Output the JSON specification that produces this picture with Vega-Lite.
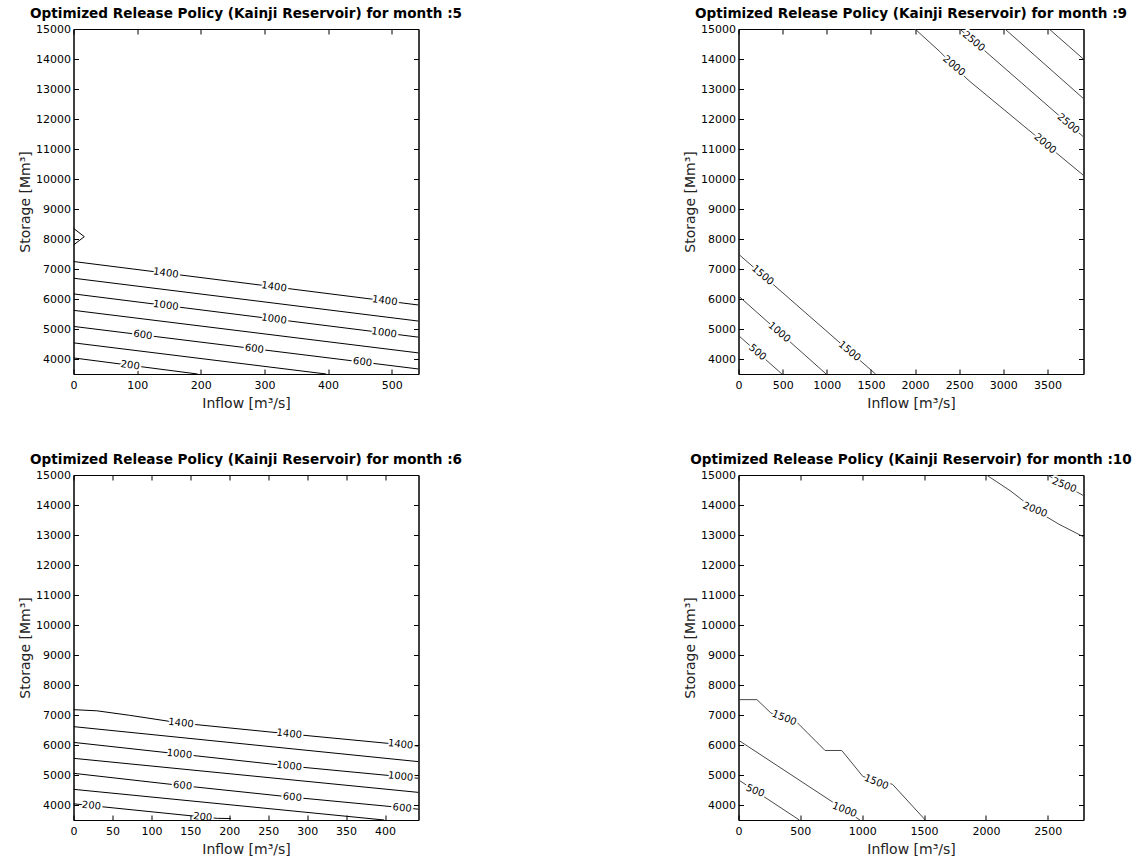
{
  "$schema": "https://vega.github.io/schema/vega-lite/v6.json",
  "padding": {"left": 17.5, "top": 6, "right": 5, "bottom": 5},
  "background": "white",
  "config": {
    "font": "DejaVu Sans",
    "view": {"stroke": "black", "strokeWidth": 1},
    "axis": {
      "grid": false, "domainColor": "black", "domainWidth": 1, "tickColor": "black", "tickSize": -5,
      "labelColor": "black", "labelFont": "DejaVu Sans", "labelFontSize": 11, "format": "d",
      "titleFont": "DejaVu Sans", "titleFontSize": 14, "titleFontWeight": "normal", "titleColor": "#222",
      "labelFlush": false, "labelOverlap": false
    },
    "axisBottom": {"labelPadding": 10, "titlePadding": 6},
    "axisLeft": {"labelPadding": 8, "titlePadding": 3},
    "title": {"font": "DejaVu Sans", "fontSize": 13.6, "fontWeight": "bold", "color": "black", "offset": 2, "frame": "group", "anchor": "middle"}
  },
  "datasets": {
    "lines5": [
      {"s": "1400", "i": 0, "x": 0, "y": 7250}, {"s": "1400", "i": 1, "x": 542, "y": 5800},
      {"s": "1200", "i": 0, "x": 0, "y": 6693}, {"s": "1200", "i": 1, "x": 542, "y": 5264},
      {"s": "1000", "i": 0, "x": 0, "y": 6170}, {"s": "1000", "i": 1, "x": 542, "y": 4728},
      {"s": "800", "i": 0, "x": 0, "y": 5622}, {"s": "800", "i": 1, "x": 542, "y": 4203},
      {"s": "600", "i": 0, "x": 0, "y": 5086}, {"s": "600", "i": 1, "x": 542, "y": 3667},
      {"s": "400", "i": 0, "x": 0, "y": 4539}, {"s": "400", "i": 1, "x": 397, "y": 3500},
      {"s": "200", "i": 0, "x": 0, "y": 4036}, {"s": "200", "i": 1, "x": 195, "y": 3500},
      {"s": "1600", "i": 0, "x": 0, "y": 8357}, {"s": "1600", "i": 1, "x": 17, "y": 8078}, {"s": "1600", "i": 2, "x": 0, "y": 7799}
    ],
    "labels5": [
      {"label": "1400", "x": 145, "y": 6862}, {"label": "1400", "x": 315, "y": 6407}, {"label": "1400", "x": 489, "y": 5942},
      {"label": "1000", "x": 145, "y": 5784}, {"label": "1000", "x": 315, "y": 5332}, {"label": "1000", "x": 488, "y": 4872},
      {"label": "600", "x": 109, "y": 4801}, {"label": "600", "x": 284, "y": 4342}, {"label": "600", "x": 454, "y": 3897},
      {"label": "200", "x": 89, "y": 3791}
    ],
    "lines6": [
      {"s": "1400", "i": 0, "x": 0, "y": 7178}, {"s": "1400", "i": 1, "x": 30, "y": 7140}, {"s": "1400", "i": 2, "x": 72, "y": 6990},
      {"s": "1400", "i": 3, "x": 138, "y": 6730}, {"s": "1400", "i": 4, "x": 277, "y": 6370}, {"s": "1400", "i": 5, "x": 420, "y": 6015}, {"s": "1400", "i": 6, "x": 443, "y": 5965},
      {"s": "1200", "i": 0, "x": 0, "y": 6612}, {"s": "1200", "i": 1, "x": 443, "y": 5445},
      {"s": "1000", "i": 0, "x": 0, "y": 6087}, {"s": "1000", "i": 1, "x": 136, "y": 5700}, {"s": "1000", "i": 2, "x": 277, "y": 5300}, {"s": "1000", "i": 3, "x": 443, "y": 4890},
      {"s": "800", "i": 0, "x": 0, "y": 5556}, {"s": "800", "i": 1, "x": 443, "y": 4420},
      {"s": "600", "i": 0, "x": 0, "y": 5056}, {"s": "600", "i": 1, "x": 140, "y": 4645}, {"s": "600", "i": 2, "x": 281, "y": 4260}, {"s": "600", "i": 3, "x": 443, "y": 3860},
      {"s": "400", "i": 0, "x": 0, "y": 4522}, {"s": "400", "i": 1, "x": 399, "y": 3500},
      {"s": "200", "i": 0, "x": 0, "y": 4040}, {"s": "200", "i": 1, "x": 23, "y": 3978}, {"s": "200", "i": 2, "x": 166, "y": 3600}, {"s": "200", "i": 3, "x": 185, "y": 3555}, {"s": "200", "i": 4, "x": 202, "y": 3550}
    ],
    "labels6": [
      {"label": "1400", "x": 138, "y": 6730}, {"label": "1400", "x": 277, "y": 6370}, {"label": "1400", "x": 420, "y": 6020},
      {"label": "1000", "x": 136, "y": 5700}, {"label": "1000", "x": 277, "y": 5300}, {"label": "1000", "x": 420, "y": 4950},
      {"label": "600", "x": 140, "y": 4645}, {"label": "600", "x": 281, "y": 4260}, {"label": "600", "x": 422, "y": 3900},
      {"label": "200", "x": 23, "y": 3978}, {"label": "200", "x": 166, "y": 3600}
    ],
    "lines9": [
      {"s": "500", "i": 0, "x": 0, "y": 4784}, {"s": "500", "i": 1, "x": 492, "y": 3500},
      {"s": "1000", "i": 0, "x": 0, "y": 6102}, {"s": "1000", "i": 1, "x": 993, "y": 3500},
      {"s": "1500", "i": 0, "x": 0, "y": 7497}, {"s": "1500", "i": 1, "x": 1553, "y": 3500},
      {"s": "2000", "i": 0, "x": 2000, "y": 15000}, {"s": "2000", "i": 1, "x": 2280, "y": 14250}, {"s": "2000", "i": 2, "x": 2602, "y": 13300}, {"s": "2000", "i": 3, "x": 3909, "y": 10121},
      {"s": "2500", "i": 0, "x": 2507, "y": 15000}, {"s": "2500", "i": 1, "x": 3909, "y": 11404},
      {"s": "3000", "i": 0, "x": 3019, "y": 15000}, {"s": "3000", "i": 1, "x": 3909, "y": 12680},
      {"s": "3500", "i": 0, "x": 3520, "y": 15000}, {"s": "3500", "i": 1, "x": 3909, "y": 13995}
    ],
    "labels9": [
      {"label": "500", "x": 216, "y": 4220},
      {"label": "1000", "x": 462, "y": 4892},
      {"label": "1500", "x": 273, "y": 6794}, {"label": "1500", "x": 1258, "y": 4259},
      {"label": "2000", "x": 2441, "y": 13775}, {"label": "2000", "x": 3474, "y": 11179},
      {"label": "2500", "x": 2666, "y": 14590}, {"label": "2500", "x": 3738, "y": 11843}
    ],
    "lines10": [
      {"s": "500", "i": 0, "x": 0, "y": 4837}, {"s": "500", "i": 1, "x": 492, "y": 3500},
      {"s": "1000", "i": 0, "x": 0, "y": 6160}, {"s": "1000", "i": 1, "x": 982, "y": 3500},
      {"s": "1500", "i": 0, "x": 0, "y": 7512}, {"s": "1500", "i": 1, "x": 149, "y": 7512}, {"s": "1500", "i": 2, "x": 262, "y": 7066},
      {"s": "1500", "i": 3, "x": 478, "y": 6732}, {"s": "1500", "i": 4, "x": 700, "y": 5817}, {"s": "1500", "i": 5, "x": 835, "y": 5817},
      {"s": "1500", "i": 6, "x": 1006, "y": 4949}, {"s": "1500", "i": 7, "x": 1245, "y": 4690}, {"s": "1500", "i": 8, "x": 1510, "y": 3500},
      {"s": "2000", "i": 0, "x": 2005, "y": 15000}, {"s": "2000", "i": 1, "x": 2195, "y": 14480}, {"s": "2000", "i": 2, "x": 2397, "y": 13840},
      {"s": "2000", "i": 3, "x": 2590, "y": 13360}, {"s": "2000", "i": 4, "x": 2789, "y": 12940},
      {"s": "2500", "i": 0, "x": 2498, "y": 15000}, {"s": "2500", "i": 1, "x": 2789, "y": 14310}
    ],
    "labels10": [
      {"label": "500", "x": 135, "y": 4470},
      {"label": "1000", "x": 857, "y": 3838},
      {"label": "1500", "x": 370, "y": 6900}, {"label": "1500", "x": 1114, "y": 4760},
      {"label": "2000", "x": 2397, "y": 13840},
      {"label": "2500", "x": 2633, "y": 14660}
    ]
  },
  "columns": 2,
  "spacing": {"row": 101, "column": 320},
  "bounds": "flush",
  "concat": [
    {
      "width": 345, "height": 345,
      "title": "Optimized Release Policy (Kainji Reservoir) for month :5",
      "resolve": {"axis": {"x": "independent", "y": "independent"}},
      "layer": [
        {
          "data": {"name": "lines5"},
          "mark": {"type": "line", "color": "black", "strokeWidth": 1, "clip": true},
          "encoding": {
            "x": {"field": "x", "type": "quantitative", "scale": {"domain": [0, 542], "nice": false, "zero": false},
                  "axis": {"orient": "bottom", "values": [0, 100, 200, 300, 400, 500], "title": "Inflow [m³/s]"}},
            "y": {"field": "y", "type": "quantitative", "scale": {"domain": [3500, 15000], "nice": false, "zero": false},
                  "axis": {"orient": "left", "values": [4000, 5000, 6000, 7000, 8000, 9000, 10000, 11000, 12000, 13000, 14000, 15000], "title": "Storage [Mm³]"}},
            "detail": {"field": "s"},
            "order": {"field": "i", "type": "quantitative"}
          }
        },
        {
          "data": {"name": "labels5"},
          "mark": {"type": "text", "angle": 8, "fontSize": 10, "fill": "white", "stroke": "white", "strokeWidth": 4, "strokeJoin": "round", "baseline": "middle", "clip": true},
          "encoding": {
            "x": {"field": "x", "type": "quantitative", "scale": {"domain": [0, 542], "nice": false, "zero": false},
                  "axis": {"orient": "top", "values": [0, 100, 200, 300, 400, 500], "labels": false, "title": null}},
            "y": {"field": "y", "type": "quantitative", "scale": {"domain": [3500, 15000], "nice": false, "zero": false},
                  "axis": {"orient": "right", "values": [4000, 5000, 6000, 7000, 8000, 9000, 10000, 11000, 12000, 13000, 14000, 15000], "labels": false, "title": null}},
            "text": {"field": "label"}
          }
        },
        {
          "data": {"name": "labels5"},
          "mark": {"type": "text", "angle": 8, "fontSize": 10, "color": "black", "baseline": "middle", "clip": true},
          "encoding": {
            "x": {"field": "x", "type": "quantitative", "scale": {"domain": [0, 542], "nice": false, "zero": false}, "axis": null},
            "y": {"field": "y", "type": "quantitative", "scale": {"domain": [3500, 15000], "nice": false, "zero": false}, "axis": null},
            "text": {"field": "label"}
          }
        }
      ]
    },
    {
      "width": 345, "height": 345,
      "title": "Optimized Release Policy (Kainji Reservoir) for month :9",
      "resolve": {"axis": {"x": "independent", "y": "independent"}},
      "layer": [
        {
          "data": {"name": "lines9"},
          "mark": {"type": "line", "color": "#333", "strokeWidth": 0.9, "clip": true},
          "encoding": {
            "x": {"field": "x", "type": "quantitative", "scale": {"domain": [0, 3909], "nice": false, "zero": false},
                  "axis": {"orient": "bottom", "values": [0, 500, 1000, 1500, 2000, 2500, 3000, 3500], "title": "Inflow [m³/s]"}},
            "y": {"field": "y", "type": "quantitative", "scale": {"domain": [3500, 15000], "nice": false, "zero": false},
                  "axis": {"orient": "left", "values": [4000, 5000, 6000, 7000, 8000, 9000, 10000, 11000, 12000, 13000, 14000, 15000], "title": "Storage [Mm³]"}},
            "detail": {"field": "s"},
            "order": {"field": "i", "type": "quantitative"}
          }
        },
        {
          "data": {"name": "labels9"},
          "mark": {"type": "text", "angle": 40, "fontSize": 10, "fill": "white", "stroke": "white", "strokeWidth": 4, "strokeJoin": "round", "baseline": "middle", "clip": true},
          "encoding": {
            "x": {"field": "x", "type": "quantitative", "scale": {"domain": [0, 3909], "nice": false, "zero": false},
                  "axis": {"orient": "top", "values": [0, 500, 1000, 1500, 2000, 2500, 3000, 3500], "labels": false, "title": null}},
            "y": {"field": "y", "type": "quantitative", "scale": {"domain": [3500, 15000], "nice": false, "zero": false},
                  "axis": {"orient": "right", "values": [4000, 5000, 6000, 7000, 8000, 9000, 10000, 11000, 12000, 13000, 14000, 15000], "labels": false, "title": null}},
            "text": {"field": "label"}
          }
        },
        {
          "data": {"name": "labels9"},
          "mark": {"type": "text", "angle": 40, "fontSize": 10, "color": "black", "baseline": "middle", "clip": true},
          "encoding": {
            "x": {"field": "x", "type": "quantitative", "scale": {"domain": [0, 3909], "nice": false, "zero": false}, "axis": null},
            "y": {"field": "y", "type": "quantitative", "scale": {"domain": [3500, 15000], "nice": false, "zero": false}, "axis": null},
            "text": {"field": "label"}
          }
        }
      ]
    },
    {
      "width": 345, "height": 345,
      "title": "Optimized Release Policy (Kainji Reservoir) for month :6",
      "resolve": {"axis": {"x": "independent", "y": "independent"}},
      "layer": [
        {
          "data": {"name": "lines6"},
          "mark": {"type": "line", "color": "black", "strokeWidth": 1, "clip": true},
          "encoding": {
            "x": {"field": "x", "type": "quantitative", "scale": {"domain": [0, 443], "nice": false, "zero": false},
                  "axis": {"orient": "bottom", "values": [0, 50, 100, 150, 200, 250, 300, 350, 400], "title": "Inflow [m³/s]"}},
            "y": {"field": "y", "type": "quantitative", "scale": {"domain": [3500, 15000], "nice": false, "zero": false},
                  "axis": {"orient": "left", "values": [4000, 5000, 6000, 7000, 8000, 9000, 10000, 11000, 12000, 13000, 14000, 15000], "title": "Storage [Mm³]"}},
            "detail": {"field": "s"},
            "order": {"field": "i", "type": "quantitative"}
          }
        },
        {
          "data": {"name": "labels6"},
          "mark": {"type": "text", "angle": 6, "fontSize": 10, "fill": "white", "stroke": "white", "strokeWidth": 4, "strokeJoin": "round", "baseline": "middle", "clip": true},
          "encoding": {
            "x": {"field": "x", "type": "quantitative", "scale": {"domain": [0, 443], "nice": false, "zero": false},
                  "axis": {"orient": "top", "values": [0, 50, 100, 150, 200, 250, 300, 350, 400], "labels": false, "title": null}},
            "y": {"field": "y", "type": "quantitative", "scale": {"domain": [3500, 15000], "nice": false, "zero": false},
                  "axis": {"orient": "right", "values": [4000, 5000, 6000, 7000, 8000, 9000, 10000, 11000, 12000, 13000, 14000, 15000], "labels": false, "title": null}},
            "text": {"field": "label"}
          }
        },
        {
          "data": {"name": "labels6"},
          "mark": {"type": "text", "angle": 6, "fontSize": 10, "color": "black", "baseline": "middle", "clip": true},
          "encoding": {
            "x": {"field": "x", "type": "quantitative", "scale": {"domain": [0, 443], "nice": false, "zero": false}, "axis": null},
            "y": {"field": "y", "type": "quantitative", "scale": {"domain": [3500, 15000], "nice": false, "zero": false}, "axis": null},
            "text": {"field": "label"}
          }
        }
      ]
    },
    {
      "width": 345, "height": 345,
      "title": "Optimized Release Policy (Kainji Reservoir) for month :10",
      "resolve": {"axis": {"x": "independent", "y": "independent"}},
      "layer": [
        {
          "data": {"name": "lines10"},
          "mark": {"type": "line", "color": "#333", "strokeWidth": 0.9, "clip": true},
          "encoding": {
            "x": {"field": "x", "type": "quantitative", "scale": {"domain": [0, 2789], "nice": false, "zero": false},
                  "axis": {"orient": "bottom", "values": [0, 500, 1000, 1500, 2000, 2500], "title": "Inflow [m³/s]"}},
            "y": {"field": "y", "type": "quantitative", "scale": {"domain": [3500, 15000], "nice": false, "zero": false},
                  "axis": {"orient": "left", "values": [4000, 5000, 6000, 7000, 8000, 9000, 10000, 11000, 12000, 13000, 14000, 15000], "title": "Storage [Mm³]"}},
            "detail": {"field": "s"},
            "order": {"field": "i", "type": "quantitative"}
          }
        },
        {
          "data": {"name": "labels10"},
          "mark": {"type": "text", "angle": 22, "fontSize": 10, "fill": "white", "stroke": "white", "strokeWidth": 4, "strokeJoin": "round", "baseline": "middle", "clip": true},
          "encoding": {
            "x": {"field": "x", "type": "quantitative", "scale": {"domain": [0, 2789], "nice": false, "zero": false},
                  "axis": {"orient": "top", "values": [0, 500, 1000, 1500, 2000, 2500], "labels": false, "title": null}},
            "y": {"field": "y", "type": "quantitative", "scale": {"domain": [3500, 15000], "nice": false, "zero": false},
                  "axis": {"orient": "right", "values": [4000, 5000, 6000, 7000, 8000, 9000, 10000, 11000, 12000, 13000, 14000, 15000], "labels": false, "title": null}},
            "text": {"field": "label"}
          }
        },
        {
          "data": {"name": "labels10"},
          "mark": {"type": "text", "angle": 22, "fontSize": 10, "color": "black", "baseline": "middle", "clip": true},
          "encoding": {
            "x": {"field": "x", "type": "quantitative", "scale": {"domain": [0, 2789], "nice": false, "zero": false}, "axis": null},
            "y": {"field": "y", "type": "quantitative", "scale": {"domain": [3500, 15000], "nice": false, "zero": false}, "axis": null},
            "text": {"field": "label"}
          }
        }
      ]
    }
  ]
}
